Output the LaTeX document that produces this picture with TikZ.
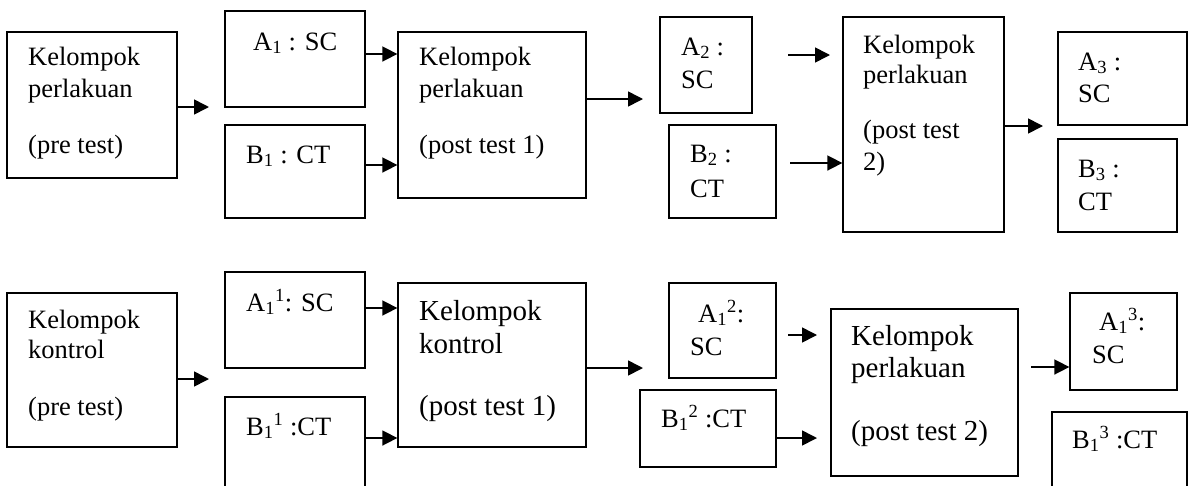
\documentclass[tikz,border=0pt]{standalone}
\usepackage{fontspec}
\setmainfont{Liberation Serif}
\usetikzlibrary{arrows.meta}

\begin{document}
\begin{tikzpicture}[x=1pt,y=-1pt,
    box/.style={draw,line width=1.3pt,inner sep=0pt},
    txt/.style={anchor=base west,inner sep=0pt,font=\fontsize{26.5}{31}\selectfont},
    txtb/.style={anchor=base west,inner sep=0pt,font=\fontsize{29}{34}\selectfont},
    arr/.style={line width=1.6pt,-{Triangle[length=15pt,width=15pt]}}]
        \clip (0,0) rectangle (1193,485);

        % perlakuan (atas)
        \node[box,minimum width=170pt,minimum height=146pt] (P0) at (92,105) {};
        \node[box,minimum width=140pt,minimum height=96pt] (A1) at (295,59) {};
        \node[box,minimum width=140pt,minimum height=93pt] (B1) at (295,171.5) {};
        \node[box,minimum width=188pt,minimum height=166pt] (P1) at (492,115) {};
        \node[box,minimum width=92pt,minimum height=96pt] (A2) at (706,65) {};
        \node[box,minimum width=107pt,minimum height=93pt] (B2) at (722.5,171.5) {};
        \node[box,minimum width=161pt,minimum height=215pt] (P2) at (923.5,124.5) {};
        \node[box,minimum width=129pt,minimum height=93pt] (A3) at (1122.5,78.5) {};
        \node[box,minimum width=119pt,minimum height=93pt] (B3) at (1117.5,185.5) {};

        \node[txt] (P0a) at (28,65) {Kelompok};
        \node[txt] (P0b) at (28,97) {perlakuan};
        \node[txt] (P0c) at (28,153) {(pre test)};
        \node[txt] (A1t) at (253,50) {A\textsubscript{1} : SC};
        \node[txt] (B1t) at (246,163) {B\textsubscript{1} : CT};
        \node[txt] (P1a) at (419,65) {Kelompok};
        \node[txt] (P1b) at (419,97) {perlakuan};
        \node[txt] (P1c) at (419,153) {(post test 1)};
        \node[txt] (A2a) at (681,55) {A\textsubscript{2} :};
        \node[txt] (A2b) at (681,88) {SC};
        \node[txt] (B2a) at (690,162) {B\textsubscript{2} :};
        \node[txt] (B2b) at (690,197) {CT};
        \node[txt] (P2a) at (863,53) {Kelompok};
        \node[txt] (P2b) at (863,83) {perlakuan};
        \node[txt] (P2c) at (863,138) {(post test};
        \node[txt] (P2d) at (863,170) {2)};
        \node[txt] (A3a) at (1078,70) {A\textsubscript{3} :};
        \node[txt] (A3b) at (1078,102) {SC};
        \node[txt] (B3a) at (1078,177) {B\textsubscript{3} :};
        \node[txt] (B3b) at (1078,210) {CT};

        \coordinate (e1) at (209,107);
        \coordinate (e2) at (643,99);
        \coordinate (e3) at (788,55);
        \coordinate (e4) at (830,55);
        \coordinate (e5) at (790,163);
        \coordinate (e6) at (1043,126);

        \draw[arr] (P0.east |- 0,107) -- (e1);
        \draw[arr] (A1.east |- 0,54) -- (P1.west |- 0,54);
        \draw[arr] (B1.east |- 0,165) -- (P1.west |- 0,165);
        \draw[arr] (P1.east |- 0,99) -- (e2);
        \draw[arr] (e3) -- (e4);
        \draw[arr] (e5) -- (P2.west |- 0,163);
        \draw[arr] (P2.east |- 0,126) -- (e6);

        % kontrol (bawah)
        \node[box,minimum width=170pt,minimum height=154pt] (K0) at (92,370) {};
        \node[box,minimum width=140pt,minimum height=96pt] (KA1) at (295,320) {};
        \node[box,minimum width=140pt,minimum height=103pt] (KB1) at (295,448.5) {};
        \node[box,minimum width=188pt,minimum height=164pt] (K1) at (492,365) {};
        \node[box,minimum width=107pt,minimum height=95pt] (KA2) at (722.5,330.5) {};
        \node[box,minimum width=136pt,minimum height=77pt] (KB2) at (708,428.5) {};
        \node[box,minimum width=187pt,minimum height=167pt] (K2) at (924.5,392.5) {};
        \node[box,minimum width=107pt,minimum height=97pt] (KA3) at (1123.5,341.5) {};
        \node[box,minimum width=135pt,minimum height=88pt] (KB3) at (1119.5,456) {};

        \node[txt] (K0a) at (28,328) {Kelompok};
        \node[txt] (K0b) at (28,358) {kontrol};
        \node[txt] (K0c) at (28,415) {(pre test)};
        \node[txt] (KA1t) at (246,311) {A\textsubscript{1}\textsuperscript{1}: SC};
        \node[txt] (KB1t) at (246,435) {B\textsubscript{1}\textsuperscript{1} :CT};
        \node[txtb] (K1a) at (419,320) {Kelompok};
        \node[txtb] (K1b) at (419,353) {kontrol};
        \node[txtb] (K1c) at (419,415) {(post test 1)};
        \node[txt] (KA2a) at (698,322) {A\textsubscript{1}\textsuperscript{2}:};
        \node[txt] (KA2b) at (690,355) {SC};
        \node[txt] (KB2t) at (661,427) {B\textsubscript{1}\textsuperscript{2} :CT};
        \node[txtb] (K2a) at (851,345) {Kelompok};
        \node[txtb] (K2b) at (851,377) {perlakuan};
        \node[txtb] (K2c) at (851,440) {(post test 2)};
        \node[txt] (KA3a) at (1099,330) {A\textsubscript{1}\textsuperscript{3}:};
        \node[txt] (KA3b) at (1092,363) {SC};
        \node[txt] (KB3t) at (1072,448) {B\textsubscript{1}\textsuperscript{3} :CT};

        \coordinate (f1) at (209,379);
        \coordinate (f2) at (643,368);
        \coordinate (f3) at (788,335);
        \coordinate (f4) at (817,335);
        \coordinate (f5) at (817,438);
        \coordinate (f6) at (1031,367);

        \draw[arr] (K0.east |- 0,379) -- (f1);
        \draw[arr] (KA1.east |- 0,308) -- (K1.west |- 0,308);
        \draw[arr] (KB1.east |- 0,438) -- (K1.west |- 0,438);
        \draw[arr] (K1.east |- 0,368) -- (f2);
        \draw[arr] (f3) -- (f4);
        \draw[arr] (KB2.east |- 0,438) -- (f5);
        \draw[arr] (f6) -- (KA3.west |- 0,367);
      \end{tikzpicture}
\end{document}
